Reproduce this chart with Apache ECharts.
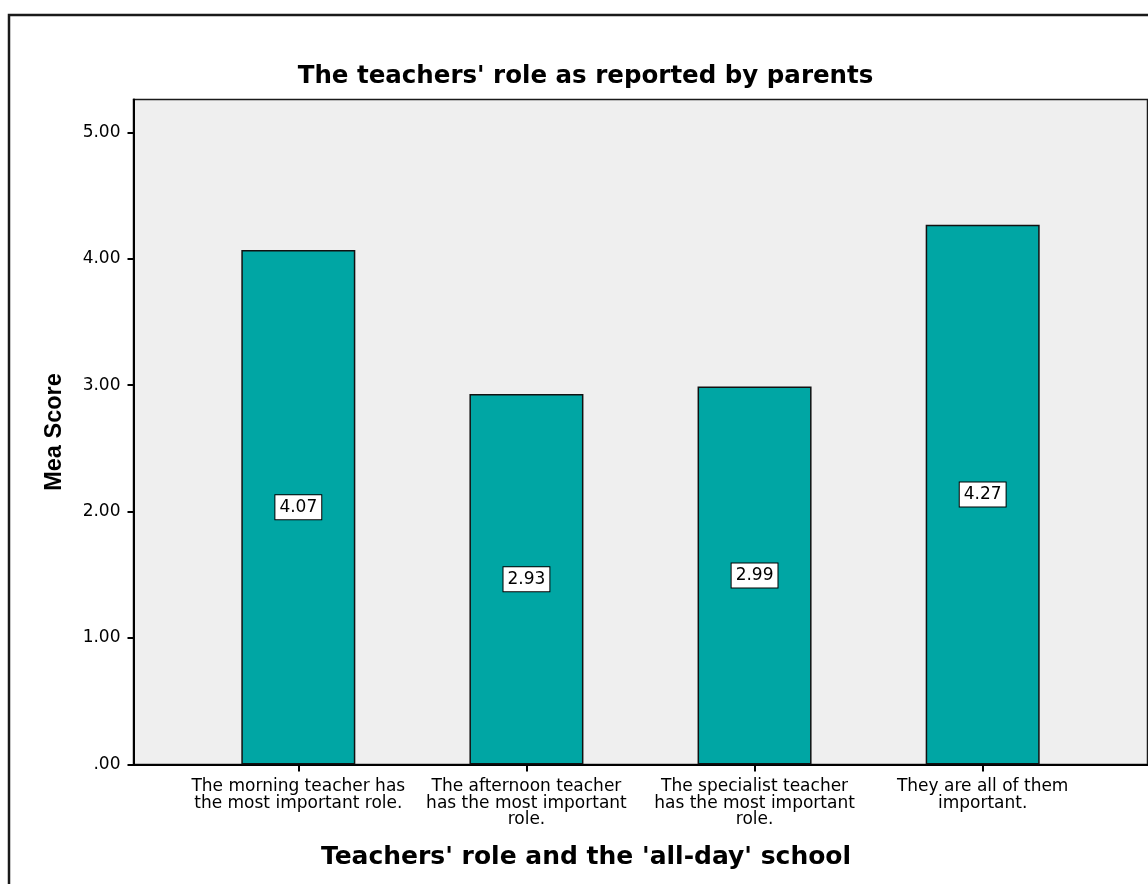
<!DOCTYPE html>
<html>
<head>
<meta charset="utf-8">
<script src="https://cdn.jsdelivr.net/npm/echarts@6/dist/echarts.min.js"></script>
<style>
  html, body { margin: 0; padding: 0; background: #fff; }
  #chart { width: 1148px; height: 884px; }
</style>
</head>
<body>
<div id="chart"></div>
<script>
const categories = [
  "The morning teacher has\nthe most important role.",
  "The afternoon teacher\nhas the most important\nrole.",
  "The specialist teacher\nhas the most important\nrole.",
  "They are all of them\nimportant."
];
const meanScores = [4.07, 2.93, 2.99, 4.27];
const yTicks = [0, 1, 2, 3, 4, 5];
const titleText = "The teachers' role as reported by parents";
const xTitle = "Teachers' role and the 'all-day' school";
const yTitle = "Mea Score";

const wide = "'DejaVu Sans', sans-serif";
const narrow = "'Liberation Sans', Arial, sans-serif";
const chart = echarts.init(document.getElementById('chart'), null, { renderer: 'canvas' });

const barData = meanScores.map((v, i) => [i, v]);

chart.setOption({
  animation: false,
  backgroundColor: '#ffffff',
  graphic: [
    {
      type: 'rect',
      shape: { x: 9, y: 15, width: 1300, height: 1000 },
      style: { fill: 'none', stroke: '#1a1a1a', lineWidth: 2.5 },
      z: 0
    }
  ],
  title: [
    {
      text: titleText,
      left: 580.5,
      textAlign: 'center',
      top: 59,
      textStyle: { fontFamily: wide, fontWeight: 'bold', fontSize: 24.5, color: '#000' }
    },
    {
      text: xTitle,
      left: 581,
      textAlign: 'center',
      top: 840,
      textStyle: { fontFamily: wide, fontWeight: 'bold', fontSize: 25, color: '#000' }
    }
  ],
  grid: {
    left: 133.5, top: 99.5, right: 0.5, bottom: 119.5,
    show: true,
    backgroundColor: '#efefef',
    borderColor: '#1a1a1a',
    borderWidth: 1.5
  },
  xAxis: {
    type: 'value',
    min: -0.7225,
    max: 3.7225,
    axisLine: { show: true, onZero: false, lineStyle: { color: '#000', width: 2 } },
    axisTick: { show: true, customValues: [0, 1, 2, 3], length: 7, lineStyle: { color: '#000', width: 2 } },
    axisLabel: {
      customValues: [0, 1, 2, 3],
      formatter: v => categories[Math.round(v)] || '',
      fontFamily: wide, fontSize: 17, color: '#000', lineHeight: 16.5,
      margin: 14, align: 'center', verticalAlign: 'top'
    },
    splitLine: { show: false }
  },
  yAxis: {
    type: 'value',
    min: 0,
    max: 5.26,
    name: yTitle,
    nameLocation: 'middle',
    nameGap: 67,
    nameRotate: 90,
    nameTextStyle: { fontFamily: narrow, fontWeight: 'bold', fontSize: 23.5, color: '#000' },
    axisLine: { show: true, onZero: false, lineStyle: { color: '#000', width: 2 } },
    axisTick: { show: true, customValues: yTicks, length: 6, inside: false, lineStyle: { color: '#000', width: 2 } },
    axisLabel: {
      customValues: yTicks,
      formatter: v => v === 0 ? '.00' : v.toFixed(2),
      fontFamily: wide, fontSize: 17, color: '#000', margin: 13
    },
    splitLine: { show: false }
  },
  series: [
    {
      type: 'bar',
      data: barData,
      barWidth: 114,
      itemStyle: { color: '#00a6a4', borderColor: '#111', borderWidth: 1.5 },
      label: {
        show: true,
        position: 'inside',
        formatter: p => p.value[1].toFixed(2),
        fontFamily: wide, fontSize: 17, color: '#000',
        backgroundColor: '#fff',
        borderColor: '#000', borderWidth: 1,
        padding: [4, 4, 3, 4]
      }
    }
  ]
});
</script>
</body>
</html>
